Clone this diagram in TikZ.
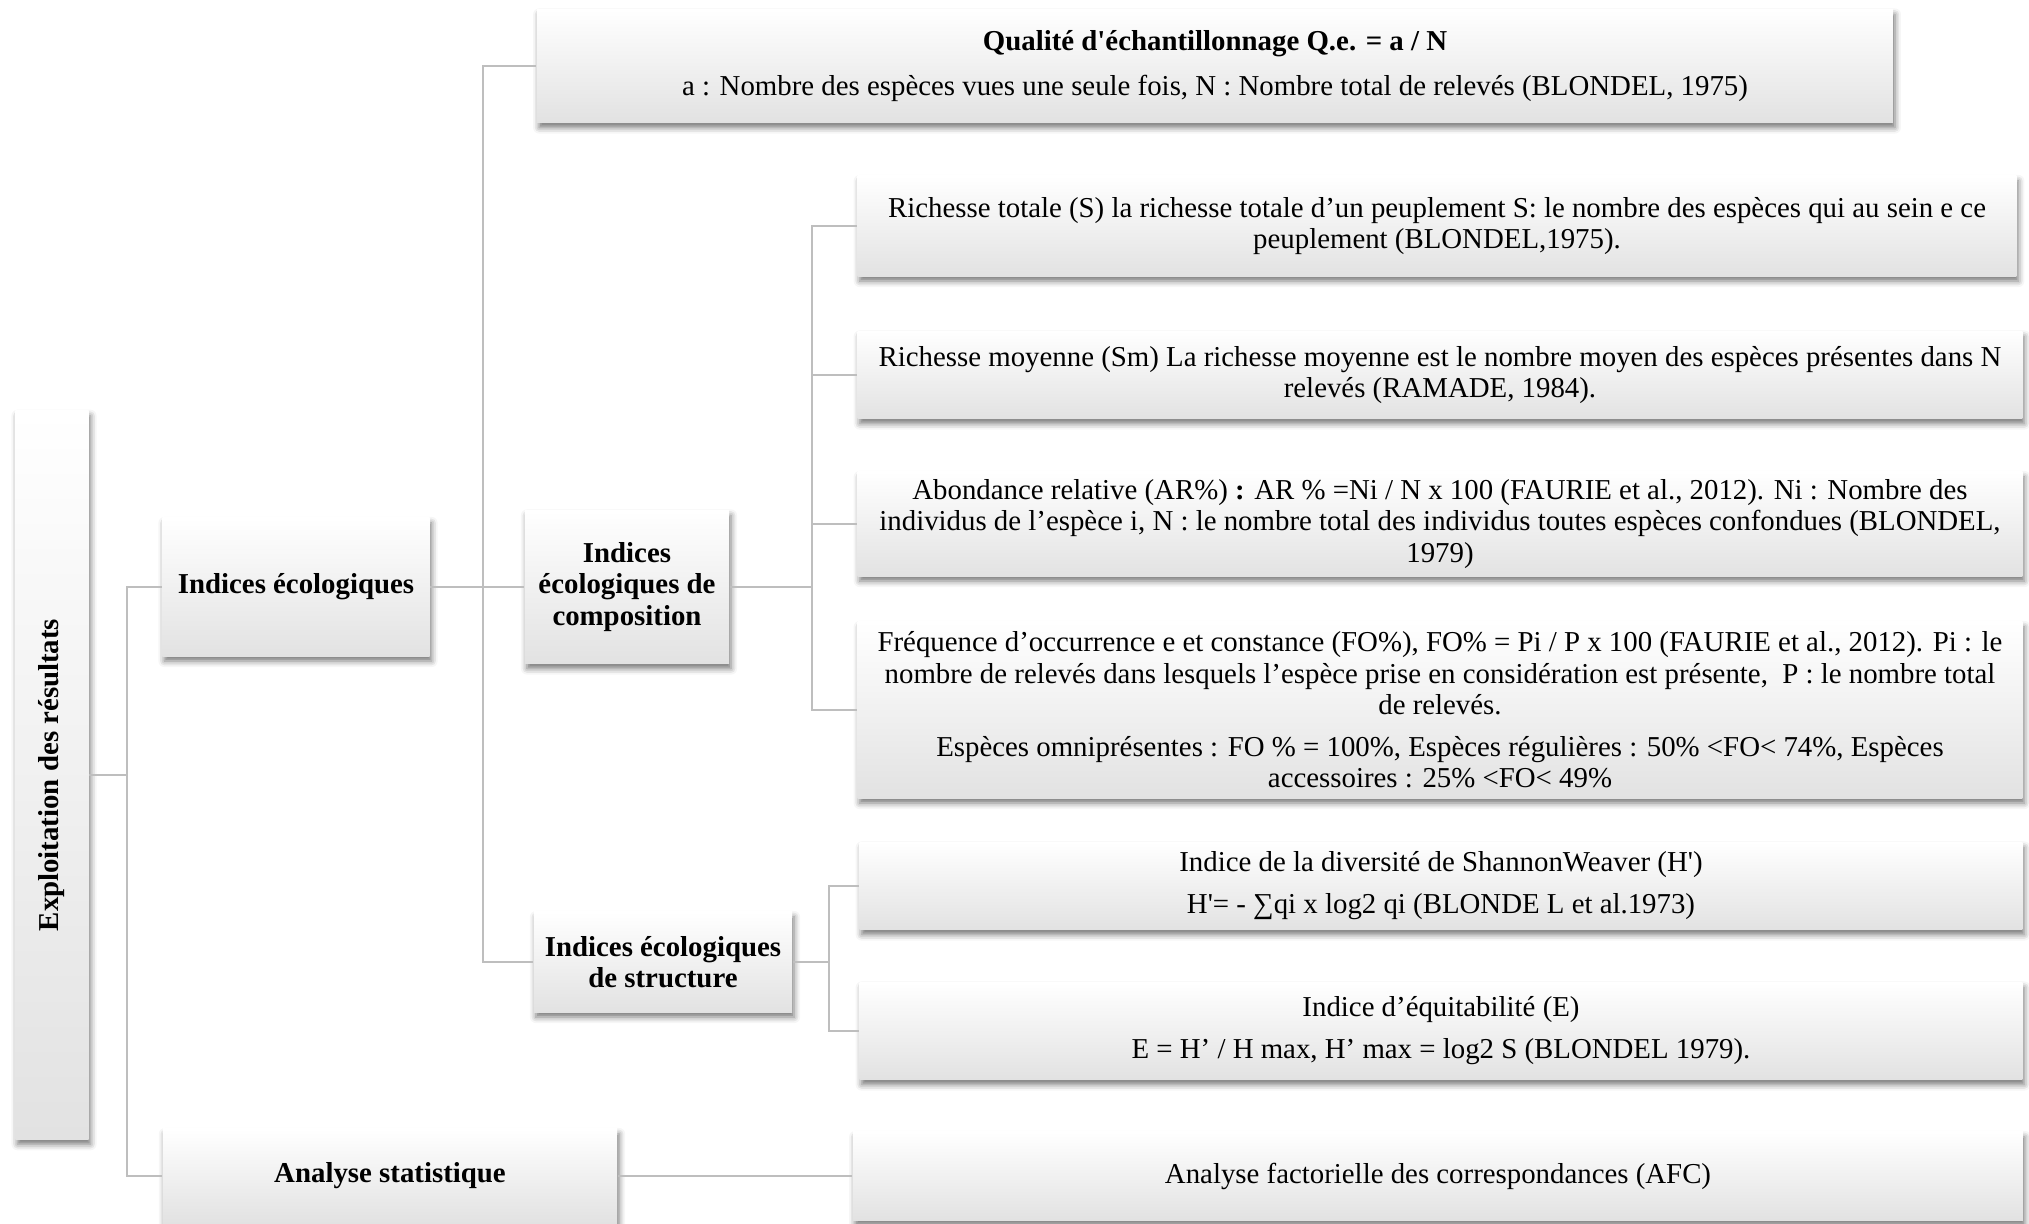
\documentclass[tikz,border=0pt]{standalone}
\usepackage{fontspec}
\newfontfamily\diagfont{Liberation Serif}
\usetikzlibrary{shadows.blur}

\begin{document}
\begin{tikzpicture}[x=0.01cm, y=-0.01cm,
  box/.style={top color=white, bottom color=boxgray, align=center, inner sep=0pt,
    blur shadow={shadow xshift=0.02cm, shadow yshift=-0.05cm, shadow blur steps=4, shadow opacity=55},
    font=\diagfont\fontsize{8.2}{8.9}\selectfont},
  headbox/.style={box, font=\diagfont\fontsize{8.2}{8.9}\selectfont\bfseries},
  link/.style={draw=linkgray, line width=0.6pt}]

% Soft office-like colours
\definecolor{boxgray}{RGB}{226, 226, 226}
\definecolor{linkgray}{RGB}{190, 190, 190}

\useasboundingbox (0,0) rectangle (2029,1224);

% ROOT
\node[headbox, minimum width=0.73cm, minimum height=7.28cm] (root) at (52,775) {\rotatebox{90}{Exploitation des résultats}};

% First level
\node[headbox, minimum width=2.67cm, minimum height=1.38cm] (ie) at (296,587) {Indices écologiques};
\node[headbox, minimum width=4.54cm, minimum height=0.94cm] (as) at (390,1176) {Analyse statistique};

% Second level
\node[box, minimum width=13.55cm, minimum height=1.13cm] (qe) at (1215,66) {\textbf{Qualité d'échantillonnage Q.e. = a / N}\\[4pt]a : Nombre des espèces vues une seule fois, N : Nombre total de relevés (BLONDEL, 1975)};
\node[headbox, minimum width=2.04cm, minimum height=1.53cm] (comp) at (627,587) {Indices\\écologiques de\\composition};
\node[headbox, minimum width=2.58cm, minimum height=1.00cm] (struct) at (663,962) {Indices écologiques\\de structure};

% Composition indices
\node[box, minimum width=11.58cm, minimum height=1.00cm] (rt) at (1437,226) {Richesse totale (S) la richesse totale d’un peuplement S: le nombre des espèces qui au sein e ce\\peuplement (BLONDEL,1975).};
\node[box, minimum width=11.64cm, minimum height=0.87cm] (rm) at (1440,375) {Richesse moyenne (Sm) La richesse moyenne est le nombre moyen des espèces présentes dans N\\relevés (RAMADE, 1984).};
\node[box, minimum width=11.64cm, minimum height=1.04cm] (ar) at (1440,524) {Abondance relative (AR\%) \textbf{:} AR \% =Ni / N x 100 (FAURIE et al., 2012). Ni : Nombre des\\individus de l’espèce i, N : le nombre total des individus toutes espèces confondues (BLONDEL,\\1979)};
\node[box, minimum width=11.64cm, minimum height=1.76cm] (fo) at (1440,710) {Fréquence d’occurrence e et constance (FO\%), FO\% = Pi / P x 100 (FAURIE et al., 2012). Pi : le\\nombre de relevés dans lesquels l’espèce prise en considération est présente,\ \ P : le nombre total\\de relevés.\\[3pt]Espèces omniprésentes : FO \% = 100\%, Espèces régulières : 50\% <FO< 74\%, Espèces\\accessoires : 25\% <FO< 49\%};

% Structure indices
\node[box, minimum width=11.62cm, minimum height=0.87cm] (sw) at (1441,886) {Indice de la diversité de ShannonWeaver (H')\\[3pt]H'= - ∑qi x log2 qi (BLONDE L et al.1973)};
\node[box, minimum width=11.62cm, minimum height=0.97cm] (eq) at (1441,1031) {Indice d’équitabilité (E)\\[3pt]E = H’ / H max, H’ max = log2 S (BLONDEL 1979).};

% Statistics
\node[box, minimum width=11.69cm, minimum height=0.88cm] (afc) at (1438,1176) {Analyse factorielle des correspondances (AFC)};

% Connectors
\draw[link] (root.east) -- ++(38,0) |- (ie.west);
\draw[link] (root.east) -- ++(38,0) |- (as.west);
\draw[link] (ie.east) -- ++(53,0) |- (qe.west);
\draw[link] (ie.east) -- (comp.west);
\draw[link] (ie.east) -- ++(53,0) |- (struct.west);
\foreach \c in {rt,rm,ar,fo}
  \draw[link] (comp.east) -- ++(82,0) |- (\c.west);
\foreach \c in {sw,eq}
  \draw[link] (struct.east) -- ++(36,0) |- (\c.west);
\draw[link] (as.east) -- (afc.west);

\end{tikzpicture}
\end{document}
